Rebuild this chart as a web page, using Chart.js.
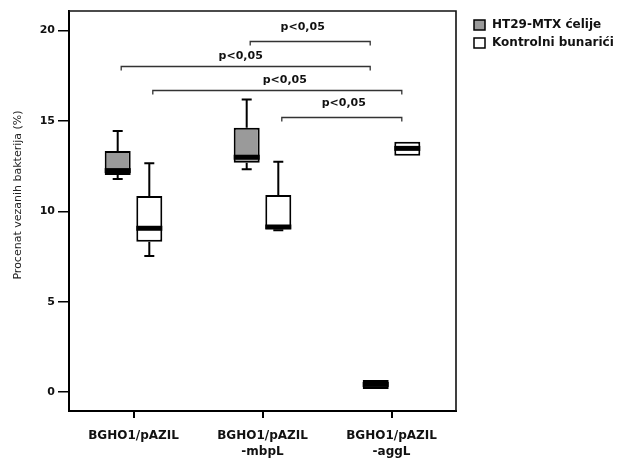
<!DOCTYPE html>
<html><head><meta charset="utf-8">
<script src="https://cdn.jsdelivr.net/npm/chart.js@4.4.1/dist/chart.umd.min.js"></script>
<style>html,body{margin:0;padding:0;background:#fff}#wrap{width:623px;height:459px}</style>
</head><body><div id="wrap"><canvas id="c" width="623" height="459"></canvas></div>
<script>
// ---- data ----
const categories = [["BGHO1/pAZIL"], ["BGHO1/pAZIL", "-mbpL"], ["BGHO1/pAZIL", "-aggL"]];
const seriesNames = ["HT29-MTX ćelije", "Kontrolni bunarići"];
const htMin    = [11.78, 12.32, 0.17];
const htQ1     = [12.00, 12.69, 0.17];
const htMedian = [12.25, 12.99, 0.42];
const htQ3     = [13.33, 14.62, 0.66];
const htMax    = [14.44, 16.19, 0.66];
const ctrlMin    = [7.52, 8.95, 13.07];
const ctrlQ1     = [8.32, 9.00, 13.07];
const ctrlMedian = [9.06, 9.13, 13.48];
const ctrlQ3     = [10.84, 10.90, 13.85];
const ctrlMax    = [12.65, 12.74, 13.85];
const yTicks = [0, 5, 10, 15, 20];
const yTitle = "Procenat vezanih bakterija (%)";
const sigLabel = "p<0,05";
// significance comparisons: [category, series] pairs
const comparisonFrom = [[1, 0], [0, 0], [0, 1], [1, 1]];
const comparisonTo   = [[2, 0], [2, 0], [2, 1], [2, 1]];

// ---- annotation layout (bracket heights in axis units, label offsets) ----
const bracketLevel = [19.43, 18.05, 16.70, 15.23];
const labelLevel   = [20.16, 18.56, 17.23, 15.98];
const labelDx      = [-7.5, -5, 7.5, 2];

const stats = [
  {min: htMin, q1: htQ1, med: htMedian, q3: htQ3, max: htMax},
  {min: ctrlMin, q1: ctrlQ1, med: ctrlMedian, q3: ctrlQ3, max: ctrlMax}
];
const GRAY = '#9a9a9a';

const boxPlugin = {
  id: 'boxes',
  afterDatasetsDraw(chart) {
    const ctx = chart.ctx, y = chart.scales.y;
    ctx.save();
    ctx.strokeStyle = '#000';
    stats.forEach((s, di) => {
      const meta = chart.getDatasetMeta(di);
      meta.data.forEach((bar, i) => {
        const x = bar.x, w = bar.width;
        const pMax = y.getPixelForValue(s.max[i]), pQ3 = y.getPixelForValue(s.q3[i]);
        const pMin = y.getPixelForValue(s.min[i]), pQ1 = y.getPixelForValue(s.q1[i]);
        const pMed = y.getPixelForValue(s.med[i]);
        ctx.lineWidth = 2; ctx.lineCap = 'butt';
        if (s.max[i] > s.q3[i]) {
          ctx.beginPath(); ctx.moveTo(x, pQ3); ctx.lineTo(x, pMax);
          ctx.moveTo(x - 5, pMax); ctx.lineTo(x + 5, pMax); ctx.stroke();
        }
        if (s.min[i] < s.q1[i]) {
          ctx.beginPath(); ctx.moveTo(x, pQ1); ctx.lineTo(x, pMin);
          ctx.moveTo(x - 5, pMin); ctx.lineTo(x + 5, pMin); ctx.stroke();
        }
        ctx.lineWidth = 5;
        ctx.beginPath(); ctx.moveTo(x - w / 2, pMed); ctx.lineTo(x + w / 2, pMed); ctx.stroke();
      });
    });
    ctx.restore();
  }
};

const decoPlugin = {
  id: 'deco',
  afterDraw(chart) {
    const ctx = chart.ctx, a = chart.chartArea, y = chart.scales.y;
    ctx.save();
    // frame top & right
    ctx.strokeStyle = '#111'; ctx.lineWidth = 1.6;
    ctx.beginPath(); ctx.moveTo(a.left, a.top); ctx.lineTo(a.right, a.top); ctx.lineTo(a.right, a.bottom); ctx.stroke();
    // brackets
    ctx.strokeStyle = '#333'; ctx.lineWidth = 1.3;
    ctx.fillStyle = '#111';
    ctx.font = 'bold 11px "DejaVu Sans"';
    ctx.textAlign = 'center'; ctx.textBaseline = 'middle';
    comparisonFrom.forEach((f, k) => {
      const t = comparisonTo[k];
      const x1 = chart.getDatasetMeta(f[1]).data[f[0]].x + 3.5;
      const x2 = chart.getDatasetMeta(t[1]).data[t[0]].x - 5.5;
      const py = Math.round(y.getPixelForValue(bracketLevel[k])) + 0.5;
      ctx.beginPath();
      ctx.moveTo(x1, py + 4); ctx.lineTo(x1, py); ctx.lineTo(x2, py); ctx.lineTo(x2, py + 4);
      ctx.stroke();
      ctx.fillText(sigLabel, (x1 + x2) / 2 + labelDx[k], y.getPixelForValue(labelLevel[k]));
    });
    // y title
    ctx.save();
    ctx.translate(18, 195); ctx.rotate(-Math.PI / 2);
    ctx.font = '11px "DejaVu Sans"'; ctx.fillStyle = '#222';
    ctx.fillText(yTitle, 0, 0);
    ctx.restore();
    // legend
    const fills = [GRAY, '#fff'];
    const ys = [25, 43];
    ctx.font = 'bold 12px "DejaVu Sans"'; ctx.textAlign = 'left'; ctx.fillStyle = '#111';
    chart.data.datasets.forEach((ds, i) => {
      ctx.fillStyle = fills[i];
      ctx.fillRect(474, ys[i] - 5, 11, 10);
      ctx.strokeStyle = '#000'; ctx.lineWidth = 1.5;
      ctx.strokeRect(474, ys[i] - 5, 11, 10);
      ctx.fillStyle = '#111';
      ctx.fillText(ds.label, 492, ys[i]);
    });
    ctx.restore();
  }
};

new Chart(document.getElementById('c'), {
  type: 'bar',
  data: {
    labels: categories,
    datasets: [
      {label: seriesNames[0], data: categories.map((_, i) => [htQ1[i], htQ3[i]]),
       backgroundColor: GRAY, borderColor: '#000', borderWidth: 2, borderSkipped: false,
       categoryPercentage: 0.49, barPercentage: 0.823},
      {label: seriesNames[1], data: categories.map((_, i) => [ctrlQ1[i], ctrlQ3[i]]),
       backgroundColor: '#fff', borderColor: '#000', borderWidth: 2, borderSkipped: false,
       categoryPercentage: 0.49, barPercentage: 0.823}
    ]
  },
  options: {
    responsive: false, animation: false,
    layout: {padding: {top: 11, right: 167, left: 0, bottom: 0}},
    plugins: {legend: {display: false}, tooltip: {enabled: false}},
    scales: {
      x: {
        grid: {offset: false, drawOnChartArea: false, tickLength: 7, lineWidth: 2, color: '#000'},
        border: {display: true, width: 2, color: '#000'},
        ticks: {color: '#111', font: {family: 'DejaVu Sans', weight: 'bold', size: 12, lineHeight: 1.4},
                padding: 9, maxRotation: 0, autoSkip: false},
        afterFit(s) { s.height = 48; }
      },
      y: {
        min: -1.05, max: 21.08,
        afterBuildTicks(s) { s.ticks = yTicks.map(v => ({value: v})); },
        grid: {drawOnChartArea: false, tickLength: 11, lineWidth: 1.5, color: '#000'},
        border: {display: true, width: 2, color: '#000'},
        ticks: {color: '#111', font: {family: 'DejaVu Sans', weight: 'bold', size: 11}, padding: 3},
        afterFit(s) { s.width = 69; }
      }
    }
  },
  plugins: [boxPlugin, decoPlugin]
});
</script>
</body></html>
